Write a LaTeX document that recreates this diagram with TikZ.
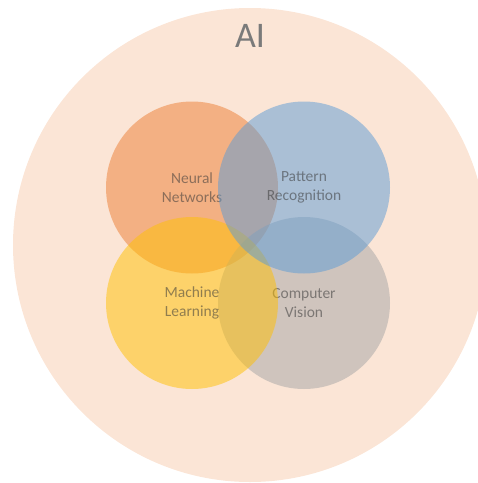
\documentclass[tikz,border=0pt]{standalone}
\usepackage{fontspec}
\setmainfont{Carlito}
\definecolor{aibg}{RGB}{251,229,214}
\definecolor{nncol}{RGB}{237,125,49}
\definecolor{prcol}{RGB}{91,155,213}
\definecolor{mlcol}{RGB}{255,192,0}
\definecolor{cvcol}{RGB}{165,165,165}
\definecolor{labcol}{RGB}{56,56,56}
\definecolor{aicol}{RGB}{122,122,122}
\tikzset{
  venn/.style={circle,minimum size=172pt,inner sep=0pt,fill opacity=.5,
    text=labcol,text opacity=.55,align=center,font=\fontsize{15.5}{19.5}\selectfont},
  aitext/.style={text=aicol,font=\fontsize{36}{40}\selectfont,anchor=base}
}
\begin{document}
\begin{tikzpicture}[x=1pt,y=-1pt]
      \useasboundingbox (0,0) rectangle (478,483);
      \clip (0,0) rectangle (478,483);
      \fill[aibg] (250,245) circle (237pt);
      \node[aitext] (ai) at (250,47) {AI};
      \begin{scope}[every node/.style={venn}]
        \node[fill=nncol] (nn) at (192,187.5) {Neural\\Networks};
        \node[fill=cvcol] (cv) at (304,303) {Computer\\Vision};
        \node[fill=mlcol] (ml) at (192,303) {Machine\\Learning};
        \node[fill=prcol] (pr) at (304,187.5) {Pattern\\Recognition};
      \end{scope}
    \end{tikzpicture}
\end{document}
